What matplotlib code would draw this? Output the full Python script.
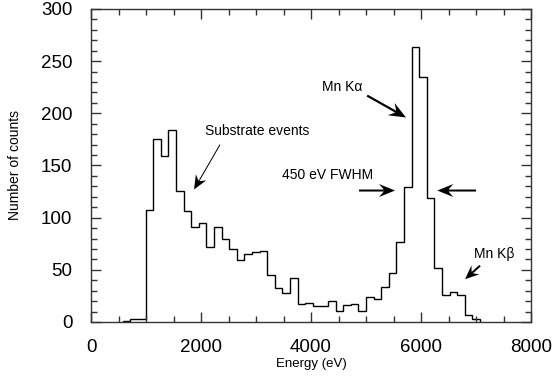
import numpy as np
import matplotlib
matplotlib.use('Agg')
import matplotlib.pyplot as plt
from matplotlib.patches import FancyArrow
from matplotlib.transforms import IdentityTransform

plt.rcParams['font.family'] = ['Liberation Sans', 'DejaVu Sans']

# spectrum: counts per bin, bins of ~138 eV starting at ~576 eV
bin_start = 576.0
bin_width = 138.2
counts = [1, 3, 3,
          107, 175, 159, 184, 126, 106, 91, 95, 72, 91,
          80, 70, 59, 65, 67, 68, 45, 33, 28, 42,
          17, 18, 15, 15, 20, 11, 16, 17, 11, 24,
          22, 34, 47, 77, 129, 264, 235, 119, 52, 26,
          29, 26, 7, 3]

# labels: (text, x, y)
labels = [('Substrate events', 2073, 183),
          ('Mn K\u03b1', 4195, 225),
          ('450 eV FWHM', 3473, 141),
          ('Mn K\u03b2', 6969, 65)]

# arrows: (tail, head) in data units
arrows = [((2345, 170), (1873, 127)),
          ((5020, 217), (5727, 196)),
          ((4873, 126), (5527, 126)),
          ((7000, 126), (6296, 126)),
          ((7073, 54), (6800, 41))]
# arrow look in pixels: shaft width, head width, head length
arrow_sizes = [(1.0, 12, 14),
               (2.2, 14, 17),
               (2.0, 13, 16),
               (2.0, 13, 16),
               (2.0, 12, 14)]

if __name__ == '__main__':
    fig = plt.figure(figsize=(5.53, 3.81), dpi=100)
    ax = fig.add_axes([0.1646, 0.1549, 0.7957, 0.8215])

    edges = bin_start + bin_width * np.arange(len(counts) + 1)
    ax.stairs(counts, edges, color='black', linewidth=1)

    ax.set_xlim(0, 8000)
    ax.set_ylim(0, 300)

    for text, x, y in labels:
        ax.text(x, y, text, fontsize=10, ha='left', va='center')

    # arrows drawn in pixel space so the heads are not stretched by the axes scaling
    for (tail, head), (w, hw, hl) in zip(arrows, arrow_sizes):
        (x0, y0), (x1, y1) = ax.transData.transform([tail, head])
        fig.add_artist(FancyArrow(x0, y0, x1 - x0, y1 - y0, width=w, head_width=hw,
                                  head_length=hl, overhang=0.3, length_includes_head=True,
                                  color='black', lw=0, transform=IdentityTransform()))

    ax.set_xticks(np.arange(0, 8001, 2000))
    ax.set_xticks(np.arange(0, 8001, 500), minor=True)
    ax.set_yticks(np.arange(0, 301, 50))
    ax.set_yticks(np.arange(0, 301, 10), minor=True)
    ax.tick_params(which='both', direction='in', top=True, right=True, color='#333333')
    ax.tick_params(which='major', length=7, width=1, labelsize=13.5)
    ax.tick_params(which='minor', length=4, width=1)
    ax.tick_params(axis='x', which='major', pad=12)
    ax.tick_params(axis='y', which='major', pad=13.5)
    for s in ax.spines.values():
        s.set_color('#333333')
        s.set_linewidth(1)

    ax.set_xlabel('Energy (eV)', fontsize=9.5)
    ax.set_ylabel('Number of counts', fontsize=10)
    ax.xaxis.set_label_coords(0.5, -0.115)
    ax.yaxis.set_label_coords(-0.158, 0.5)

    fig.savefig('out.png', dpi=100)
